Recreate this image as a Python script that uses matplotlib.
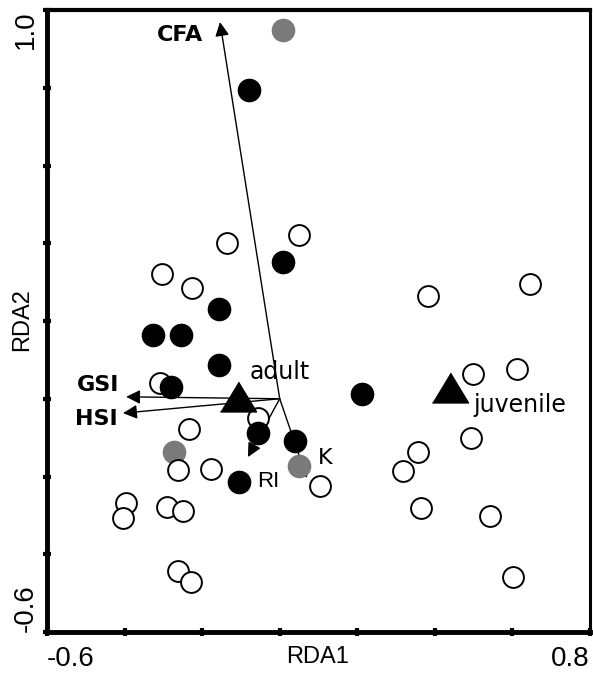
import matplotlib
matplotlib.use("Agg")
import matplotlib.pyplot as plt
import numpy as np

# sample scores (RDA1, RDA2)
open_x = [-0.136, 0.050, -0.303, -0.226, -0.309, -0.056, -0.234, -0.262, -0.177, 0.104,
          -0.396, -0.404, -0.291, -0.249, -0.262, -0.229, 0.382, 0.645, 0.498, 0.612,
          0.493, 0.357, 0.318, 0.364, 0.542, 0.601]
open_y = [0.401, 0.421, 0.321, 0.285, 0.041, -0.050, -0.078, -0.183, -0.181, -0.224,
          -0.268, -0.307, -0.278, -0.289, -0.443, -0.471, 0.264, 0.295, 0.064, 0.077,
          -0.101, -0.137, -0.186, -0.281, -0.302, -0.459]

black_x = [-0.079, 0.008, -0.157, -0.327, -0.255, -0.157, -0.280, -0.056, 0.039, -0.105, 0.212]
black_y = [0.794, 0.352, 0.231, 0.164, 0.164, 0.087, 0.030, -0.088, -0.109, -0.214, 0.012]

grey_x = [0.008, -0.273, 0.050]
grey_y = [0.949, -0.137, -0.173]

# group centroids
groups = ["adult", "juvenile"]
group_x = [-0.108, 0.439]
group_y = [0.005, 0.028]

# explanatory variables (arrow tips)
variables = ["CFA", "GSI", "HSI", "RI", "K"]
var_x = [-0.154, -0.396, -0.404, -0.082, 0.070]
var_y = [0.969, 0.005, -0.037, -0.150, -0.204]

x_ticks = [-0.6, -0.4, -0.2, 0.0, 0.2, 0.4, 0.6, 0.8]
x_labels = ["-0.6", "", "", "", "", "", "", "0.8"]
y_ticks = [-0.6, -0.4, -0.2, 0.0, 0.2, 0.4, 0.6, 0.8, 1.0]
y_labels = ["-0.6", "", "", "", "", "", "", "", "1.0"]

fig = plt.figure(figsize=(5.93, 6.73), dpi=100)
ax = fig.add_axes([47/593, 1-632/673, 543/593, 622/673])

# arrows first so the points sit on top
for name, vx, vy in zip(variables, var_x, var_y):
    ax.annotate("", xy=(vx, vy), xytext=(0, 0),
                arrowprops=dict(arrowstyle="-|>", color="k", lw=1.0,
                                mutation_scale=21, shrinkA=0, shrinkB=0),
                zorder=1)

# wide, slightly flat triangle like the original
tri = [(-1, -0.8), (1, -0.8), (0, 0.85)]

ax.plot(grey_x, grey_y, "o", ms=16, mfc="#7a7a7a", mec="#7a7a7a", zorder=2)
ax.plot(open_x, open_y, "o", ms=15, mfc="white", mec="black", mew=1.4, zorder=3)
ax.plot(black_x, black_y, "o", ms=16, mfc="black", mec="black", zorder=4)
ax.plot(group_x, group_y, ls="none", marker=tri, ms=26, mfc="black", mec="black", zorder=5)

# labels
ax.text(-0.257, 0.936, "CFA", fontsize=16, fontweight="bold", ha="center", va="center")
ax.text(-0.468, 0.035, "GSI", fontsize=16, fontweight="bold", ha="center", va="center")
ax.text(-0.474, -0.052, "HSI", fontsize=16, fontweight="bold", ha="center", va="center")
ax.text(-0.030, -0.212, "RI", fontsize=16, family="Liberation Sans", ha="center", va="center")
ax.text(0.117, -0.152, "K", fontsize=16, ha="center", va="center")
ax.text(0.001, 0.069, groups[0], fontsize=17, ha="center", va="center", zorder=6)
ax.text(0.620, -0.016, groups[1], fontsize=17, ha="center", va="center", zorder=6)

ax.set_xlim(-0.6, 0.8)
ax.set_ylim(-0.6, 1.0)

ax.set_xticks(x_ticks, x_labels, family="Liberation Sans", fontsize=20)
ax.set_yticks(y_ticks, y_labels, family="Liberation Sans", fontsize=20)
ax.tick_params(direction="inout", length=6, width=3, color="black")
ax.tick_params(axis="x", pad=7)
ax.tick_params(axis="y", pad=3)

xl = ax.get_xticklabels()
xl[0].set_ha("left")
xl[-1].set_ha("right")
for lab in ax.get_yticklabels():
    lab.set_rotation(90)
    lab.set_rotation_mode("default")
yl = ax.get_yticklabels()
yl[0].set_va("bottom")
yl[-1].set_va("top")

for side in ["left", "bottom"]:
    ax.spines[side].set_linewidth(3.5)
ax.spines["top"].set_linewidth(3.0)
ax.spines["right"].set_linewidth(2.2)

fig.text(318/593, 1-657/673, "RDA1", family="Liberation Sans", fontsize=17,
         ha="center", va="center")
fig.text(22/593, 1-320/673, "RDA2", family="Liberation Sans", fontsize=17,
         ha="center", va="center", rotation=90)

fig.savefig("out.png", dpi=100)
